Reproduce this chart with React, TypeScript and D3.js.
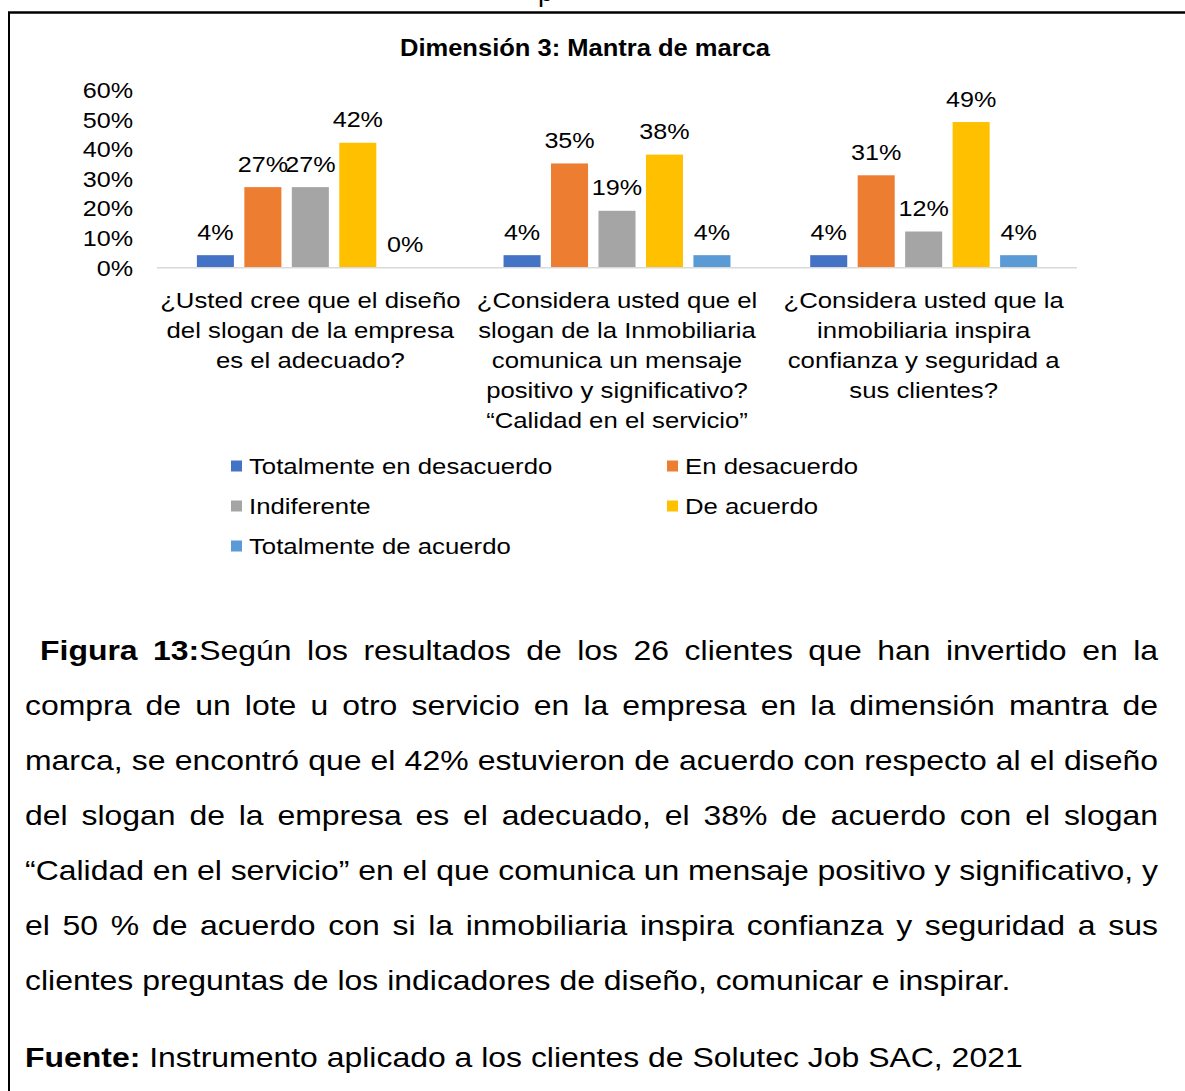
import React, { useMemo } from "react";
import * as d3 from "d3";

// chart data
const categories = [
  ["¿Usted cree que el diseño", "del slogan de la empresa", "es el adecuado?"],
  [
    "¿Considera usted que el",
    "slogan de la Inmobiliaria",
    "comunica un mensaje",
    "positivo y significativo?",
    "“Calidad en el servicio”",
  ],
  ["¿Considera usted que la", "inmobiliaria inspira", "confianza y seguridad a", "sus clientes?"],
];
const seriesNames = [
  "Totalmente en desacuerdo",
  "En desacuerdo",
  "Indiferente",
  "De acuerdo",
  "Totalmente de acuerdo",
];
const seriesColors = ["#4472C4", "#ED7D31", "#A5A5A5", "#FFC000", "#5B9BD5"];
const totalmenteDesacuerdo = [4, 4, 4];
const enDesacuerdo = [27, 35, 31];
const indiferente = [27, 19, 12];
const deAcuerdo = [42, 38, 49];
const totalmenteAcuerdo = [0, 4, 4];
const seriesValues = [totalmenteDesacuerdo, enDesacuerdo, indiferente, deAcuerdo, totalmenteAcuerdo];
const yTicks = [0, 10, 20, 30, 40, 50, 60];

const title = "Dimensión 3: Mantra de marca";

type Seg = { t: string; b?: boolean };
const captionLines: Seg[][] = [
  [{ t: "Figura 13:", b: true }, { t: "Según los resultados de los 26 clientes que han invertido en la" }],
  [{ t: "compra de un lote u otro servicio en la empresa en la dimensión mantra de" }],
  [{ t: "marca, se encontró que el 42% estuvieron de acuerdo con respecto al el diseño" }],
  [{ t: "del slogan de la empresa es el adecuado, el 38% de acuerdo con el slogan" }],
  [{ t: "“Calidad en el servicio” en el que comunica un mensaje positivo y significativo, y" }],
  [{ t: "el 50 % de acuerdo con si la inmobiliaria inspira confianza y seguridad a sus" }],
  [{ t: "clientes preguntas de los indicadores de diseño, comunicar e inspirar." }],
];
const sourceLine: Seg[] = [
  { t: "Fuente:", b: true },
  { t: " Instrumento aplicado a los clientes de Solutec Job SAC, 2021" },
];

const FONT = '"Liberation Sans", Arial, sans-serif';
const SX = 1.17; // the picture is a bit stretched sideways
const W = 1185;
const H = 1091;

// text drawn with the horizontal stretch
const T = ({ x, y, size, anchor = "start", bold = false, sx = SX, children }: any) => (
  <text
    transform={`translate(${x},${y}) scale(${sx},1)`}
    fontSize={size}
    textAnchor={anchor}
    fontWeight={bold ? "bold" : "normal"}
  >
    {children}
  </text>
);

// split segments into words, keeping bold runs
const toWords = (segs: Seg[]) => {
  const words: Seg[][] = [];
  let cur: Seg[] = [];
  segs.forEach((s) => {
    s.t.split(" ").forEach((p, i) => {
      if (i > 0 && cur.length) {
        words.push(cur);
        cur = [];
      }
      if (p) cur.push({ t: p, b: s.b });
    });
  });
  if (cur.length) words.push(cur);
  return words;
};

const App = () => {
  const margin = { left: 157, right: 1077 };

  const x0 = d3
    .scaleBand()
    .domain(categories.map((_, i) => String(i)))
    .range([margin.left, margin.right]);
  const x1 = d3
    .scaleBand()
    .domain(seriesNames)
    .range([0, x0.bandwidth()])
    .paddingInner(0.22)
    .paddingOuter(0.84);
  const y = d3.scaleLinear().domain([0, 60]).range([267, 89.5]);

  const paraSize = 27.3;
  const layout = useMemo(() => {
    const ctx = document.createElement("canvas").getContext("2d")!;
    const measure = (w: Seg[]) =>
      d3.sum(w, (r) => {
        ctx.font = `${r.b ? "bold " : ""}${paraSize}px ${FONT}`;
        return ctx.measureText(r.t).width * SX;
      });
    ctx.font = `${paraSize}px ${FONT}`;
    const space = ctx.measureText(" ").width * SX;

    const placeLine = (segs: Seg[], left: number, right: number, justify: boolean) => {
      const words = toWords(segs);
      const widths = words.map(measure);
      const gap = justify ? (right - left - d3.sum(widths)) / (words.length - 1) : space;
      let x = left;
      return words.map((w, i) => {
        const out = { x, runs: w };
        x += widths[i] + gap;
        return out;
      });
    };

    const lines = captionLines.map((segs, i) =>
      placeLine(segs, i === 0 ? 40 : 25, 1158, i < captionLines.length - 1)
    );
    const src = placeLine(sourceLine, 25, 1158, false);
    return { lines, src };
  }, []);

  const renderWord = (w: { x: number; runs: Seg[] }, yy: number, key: string) => (
    <text
      key={key}
      transform={`translate(${w.x},${yy}) scale(${SX},1)`}
      fontSize={paraSize}
    >
      {w.runs.map((r, k) => (
        <tspan key={k} fontWeight={r.b ? "bold" : "normal"}>
          {r.t}
        </tspan>
      ))}
    </text>
  );

  return (
    <svg
      width={W}
      height={H}
      style={{ position: "absolute", left: 0, top: 0, background: "#fff" }}
      fontFamily={FONT}
      fill="#000"
    >
      {/* cut-off text from the page above */}
      <text x={538} y={0.5} fontSize={paraSize}>
        p
      </text>

      {/* frame */}
      <line x1={8} x2={W} y1={12.5} y2={12.5} stroke="#000" strokeWidth={2.5} />
      <line x1={9} x2={9} y1={12} y2={H} stroke="#000" strokeWidth={2} />

      <T x={585} y={56} size={23} bold sx={1.11} anchor="middle">
        {title}
      </T>

      {/* y labels */}
      {yTicks.map((t) => (
        <T key={t} x={133} y={y(t) + 8.5} size={21.5} anchor="end">
          {`${t}%`}
        </T>
      ))}

      {/* bars */}
      {categories.map((_, g) =>
        seriesNames.map((s, si) => {
          const v = seriesValues[si][g];
          const bx = x0(String(g))! + x1(s)!;
          return (
            <g key={`${g}-${s}`}>
              <rect
                x={bx}
                y={y(v)}
                width={x1.bandwidth()}
                height={y(0) - y(v)}
                fill={seriesColors[si]}
              />
              <T x={bx + x1.bandwidth() / 2} y={y(v) - 15.5} size={21.5} anchor="middle">
                {`${v}%`}
              </T>
            </g>
          );
        })
      )}

      <line
        x1={margin.left}
        x2={margin.right}
        y1={y(0) + 0.75}
        y2={y(0) + 0.75}
        stroke="#D9D9D9"
        strokeWidth={1.5}
      />

      {/* category labels */}
      {categories.map((lines, g) => (
        <g key={g}>
          {lines.map((ln, i) => (
            <T
              key={i}
              x={x0(String(g))! + x0.bandwidth() / 2}
              y={307.5 + i * 30}
              size={22}
              anchor="middle"
            >
              {ln}
            </T>
          ))}
        </g>
      ))}

      {/* legend */}
      {seriesNames.map((s, i) => {
        const lx = i % 2 === 0 ? 231 : 667;
        const ly = 466 + Math.floor(i / 2) * 40;
        return (
          <g key={s}>
            <rect x={lx} y={ly - 5.5} width={11} height={11} fill={seriesColors[i]} />
            <T x={lx + 18} y={ly + 8} size={22}>
              {s}
            </T>
          </g>
        );
      })}

      {/* caption */}
      {layout.lines.map((ln, i) => ln.map((w, j) => renderWord(w, 660 + i * 55, `c${i}-${j}`)))}
      {layout.src.map((w, j) => renderWord(w, 1067, `s${j}`))}
    </svg>
  );
};

export default App;
